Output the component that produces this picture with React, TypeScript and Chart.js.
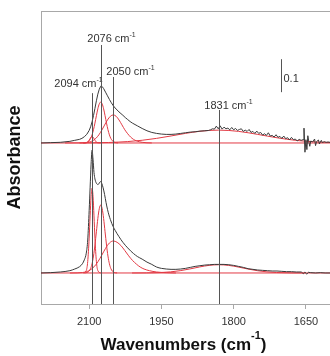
import { useEffect, useRef } from "react";
import { Chart, registerables } from "chart.js";

Chart.register(...registerables);

// ---------- axes ----------
const X_MIN = 1600;
const X_MAX = 2200;
const Y_MIN = -0.094;
const Y_MAX = 0.794;
const X_TICKS = [2100, 1950, 1800, 1650];
const X_TITLE = "Wavenumbers (cm";
const X_TITLE_SUP = "-1";
const X_TITLE_END = ")";
const Y_TITLE = "Absorbance";

// vertical offsets of the two stacked spectra
const UPPER_OFFSET = 0.394;
const LOWER_OFFSET = 0;

// ---------- upper spectrum (measured, black) ----------
const UPPER_WN = [
  2200, 2180, 2160, 2140, 2130, 2120, 2115, 2110, 2105, 2100, 2097, 2094, 2091, 2088, 2085, 2082, 2079, 2076,
  2073, 2070, 2066, 2062, 2058, 2054, 2050, 2046, 2042, 2038, 2034, 2030, 2025, 2020, 2015, 2010, 2000, 1990,
  1980, 1970, 1960, 1950, 1940, 1930, 1920, 1910, 1900, 1890, 1880, 1870, 1860, 1852,
  1848, 1844, 1840, 1836, 1832, 1828, 1824, 1820, 1816, 1812, 1808, 1804, 1800, 1796, 1792, 1788, 1784, 1780,
  1776, 1772, 1768, 1764, 1760, 1756, 1752, 1748, 1744, 1740, 1736, 1732, 1728, 1724, 1720, 1716, 1712, 1708,
  1704, 1700, 1696, 1692, 1688, 1684, 1680, 1676, 1672, 1668,
  1664, 1660, 1656, 1654, 1652, 1650, 1648, 1646, 1644, 1642, 1640, 1636, 1632, 1630, 1628, 1624, 1622, 1620,
  1618, 1616, 1612, 1608, 1604, 1600,
];
const UPPER_ABS = [
  0.0, 0.001, 0.002, 0.005, 0.008, 0.011, 0.014, 0.019, 0.026, 0.038, 0.049, 0.064, 0.083, 0.105, 0.128, 0.148, 0.163, 0.172,
  0.171, 0.165, 0.154, 0.143, 0.132, 0.122, 0.113, 0.106, 0.1, 0.094, 0.089, 0.084, 0.077, 0.071, 0.065, 0.06, 0.052, 0.044,
  0.037, 0.032, 0.029, 0.027, 0.026, 0.026, 0.027, 0.029, 0.031, 0.033, 0.034, 0.036, 0.037, 0.038,
  0.04, 0.043, 0.042, 0.051, 0.043, 0.052, 0.042, 0.048, 0.043, 0.045, 0.04, 0.047, 0.04, 0.044, 0.038, 0.041, 0.043, 0.035,
  0.039, 0.035, 0.041, 0.032, 0.035, 0.029, 0.036, 0.029, 0.032, 0.024, 0.028, 0.023, 0.031, 0.021, 0.023, 0.018, 0.025, 0.017,
  0.02, 0.014, 0.021, 0.013, 0.016, 0.009, 0.017, 0.01, 0.012, 0.006,
  0.011, 0.008, 0.01, 0.045, -0.028, 0.01, -0.02, 0.022, 0.004, -0.01, 0.006, 0.003, 0.012, -0.008, 0.004, 0.009, -0.003, 0.003,
  0.008, 0.001, 0.004, 0.002, 0.003, 0.002,
];

// upper fitted components (red)
const U2094_WN = [2112, 2106, 2103, 2100, 2097, 2094, 2091, 2088, 2085, 2082, 2076];
const U2094_ABS = [0, 0.0006, 0.0027, 0.0082, 0.016, 0.02, 0.016, 0.0082, 0.0027, 0.0006, 0];
const U2076_WN = [2112, 2106, 2100, 2097, 2094, 2091, 2088, 2085, 2082, 2079, 2076, 2073, 2070, 2067, 2064, 2061, 2058, 2055, 2052, 2046, 2040];
const U2076_ABS = [0.0002, 0.0014, 0.007, 0.0137, 0.0245, 0.0403, 0.0603, 0.0827, 0.1036, 0.1185, 0.124, 0.1185, 0.1036, 0.0827, 0.0603, 0.0403, 0.0245, 0.0137, 0.007, 0.0014, 0.0002];
const U2050_WN = [2120, 2110, 2104, 2098, 2092, 2086, 2080, 2074, 2068, 2062, 2056, 2050, 2044, 2038, 2032, 2026, 2020, 2014, 2008, 2002, 1996, 1990, 1980, 1970];
const U2050_ABS = [0.0001, 0.0006, 0.0015, 0.0035, 0.0074, 0.0141, 0.0244, 0.0383, 0.0543, 0.0697, 0.0809, 0.085, 0.0809, 0.0697, 0.055, 0.04, 0.028, 0.018, 0.011, 0.0065, 0.0038, 0.002, 0.0006, 0.0001];
const U1831_WN = [2150, 2100, 2060, 2020, 1990, 1960, 1930, 1900, 1870, 1850, 1831, 1810, 1790, 1770, 1750, 1730, 1710, 1690, 1670, 1650, 1630, 1610, 1600];
const U1831_ABS = [0.0001, 0.0004, 0.0015, 0.0043, 0.0082, 0.014, 0.0213, 0.0291, 0.0355, 0.0381, 0.039, 0.0379, 0.0352, 0.031, 0.026, 0.0208, 0.0158, 0.0114, 0.0079, 0.0052, 0.0032, 0.0019, 0.0014];

// ---------- lower spectrum (measured, black) ----------
const LOWER_WN = [
  2200, 2180, 2160, 2140, 2130, 2120, 2114, 2110, 2106, 2103, 2100, 2098, 2096, 2094, 2092, 2090, 2088, 2086, 2084,
  2082, 2080, 2078, 2076, 2074, 2071, 2068, 2065, 2062, 2059, 2056, 2053, 2050, 2046, 2042, 2038, 2034, 2030, 2025,
  2020, 2014, 2008, 2000, 1990, 1980, 1970, 1960, 1950, 1940, 1930, 1920, 1910, 1900, 1890, 1880, 1870, 1860, 1850,
  1840, 1831, 1820, 1810, 1800, 1790, 1780, 1770, 1760, 1750, 1740, 1730, 1720, 1710, 1700, 1690, 1680, 1670, 1660,
  1655, 1652, 1648, 1645, 1640, 1630, 1620, 1610, 1600,
];
const LOWER_ABS = [
  0.0, 0.001, 0.003, 0.007, 0.012, 0.019, 0.028, 0.04, 0.06, 0.1, 0.19, 0.26, 0.33, 0.372, 0.345, 0.305, 0.285, 0.275, 0.27,
  0.268, 0.27, 0.275, 0.277, 0.272, 0.258, 0.238, 0.214, 0.193, 0.176, 0.162, 0.15, 0.14, 0.129, 0.119, 0.11, 0.101, 0.093, 0.084,
  0.076, 0.067, 0.059, 0.05, 0.042, 0.033, 0.026, 0.018, 0.014, 0.012, 0.011, 0.011, 0.012, 0.014, 0.017, 0.02, 0.022, 0.024, 0.025,
  0.026, 0.026, 0.026, 0.025, 0.023, 0.02, 0.017, 0.013, 0.011, 0.009, 0.008, 0.007, 0.006, 0.006, 0.005, 0.004, 0.004, 0.003, 0.003,
  -0.002, 0.003, -0.004, 0.002, 0.001, 0.0, 0.001, 0.0, 0.0,
];

// lower fitted components (red)
const L2094_WN = [2112, 2106, 2103, 2100, 2098, 2096, 2094, 2092, 2090, 2088, 2085, 2082, 2076];
const L2094_ABS = [0.0001, 0.0073, 0.0348, 0.1057, 0.1731, 0.2328, 0.257, 0.2328, 0.1731, 0.1057, 0.0348, 0.0073, 0.0001];
const L2076_WN = [2110, 2104, 2100, 2097, 2094, 2091, 2088, 2085, 2082, 2079, 2076, 2073, 2070, 2067, 2064, 2061, 2058, 2055, 2052, 2048, 2042];
const L2076_ABS = [0.0002, 0.0016, 0.0059, 0.0135, 0.0279, 0.0514, 0.0847, 0.125, 0.165, 0.1949, 0.206, 0.1949, 0.165, 0.125, 0.0847, 0.0514, 0.0279, 0.0135, 0.0059, 0.0016, 0.0002];
const L2050_WN = [2140, 2125, 2114, 2106, 2098, 2090, 2082, 2074, 2066, 2058, 2050, 2042, 2034, 2026, 2018, 2010, 2002, 1994, 1986, 1975, 1960, 1940, 1920];
const L2050_ABS = [0.0, 0.0003, 0.0014, 0.0038, 0.009, 0.0186, 0.0337, 0.0535, 0.0745, 0.0908, 0.097, 0.093, 0.083, 0.068, 0.052, 0.038, 0.027, 0.018, 0.012, 0.007, 0.003, 0.001, 0.0];
const L1831_WN = [2011, 1981, 1951, 1931, 1911, 1891, 1871, 1851, 1831, 1811, 1791, 1771, 1751, 1731, 1711, 1681, 1651];
const L1831_ABS = [0, 0.0003, 0.0014, 0.0034, 0.007, 0.0122, 0.0182, 0.0231, 0.025, 0.0231, 0.0182, 0.0122, 0.007, 0.0034, 0.0014, 0.0003, 0];

// ---------- annotations ----------
const MARKER_WN = [2094, 2076, 2050, 1831];
const MARKER_LABELS = ["2094 cm", "2076 cm", "2050 cm", "1831 cm"];
const MARKER_SUP = "-1";
const SCALE_BAR_VALUE = 0.1;
const SCALE_BAR_LABEL = "0.1";

// ---------- styling ----------
const FONT = "'Liberation Sans', Arial, Helvetica, sans-serif";
const BLACK = "#3a3a3a";
const RED = "#e23a44";
const MARKER_COLOR = "#555555";
const FRAME = "#a8a8a8";
const TEXT = "#333333";
// annotation layout (absorbance of line tops, label offsets in px)
const MARKER_TOP = [0.545, 0.691, 0.594, 0.494];
const MARKER_LABEL_DX = [-14, 10, 17, 9];
const MARKER_LABEL_DY = [-10, -7, -6, -5];
const SCALE_BAR_WN = 1702;
const SCALE_BAR_BOTTOM = 0.548;

function pts(wn: number[], ab: number[], offset: number) {
  return wn.map((w, i) => ({ x: w, y: ab[i] + offset }));
}

function lineDs(data: { x: number; y: number }[], color: string, smooth = true) {
  return {
    data,
    borderColor: color,
    borderWidth: 1,
    pointRadius: 0,
    fill: false,
    tension: 0,
    cubicInterpolationMode: smooth ? ("monotone" as const) : ("default" as const),
  };
}

function drawSupText(
  ctx: CanvasRenderingContext2D,
  main: string,
  sup: string,
  tail: string,
  cx: number,
  baseline: number,
  size: number,
  supSize: number,
  raise: number,
  weight: string
) {
  ctx.font = `${weight} ${size}px ${FONT}`;
  const w1 = ctx.measureText(main).width;
  const w3 = ctx.measureText(tail).width;
  ctx.font = `${weight} ${supSize}px ${FONT}`;
  const w2 = ctx.measureText(sup).width;
  let x = cx - (w1 + w2 + w3) / 2;
  ctx.textAlign = "left";
  ctx.textBaseline = "alphabetic";
  ctx.font = `${weight} ${size}px ${FONT}`;
  ctx.fillText(main, x, baseline);
  x += w1;
  ctx.font = `${weight} ${supSize}px ${FONT}`;
  ctx.fillText(sup, x, baseline - raise);
  x += w2;
  if (tail) {
    ctx.font = `${weight} ${size}px ${FONT}`;
    ctx.fillText(tail, x, baseline);
  }
}

const overlayPlugin = {
  id: "overlay",
  afterDatasetsDraw(chart: any) {
    const { ctx, chartArea, scales } = chart;
    const xs = scales.x;
    const ys = scales.y;
    ctx.save();
    // top frame line
    ctx.strokeStyle = FRAME;
    ctx.lineWidth = 1;
    ctx.beginPath();
    ctx.moveTo(chartArea.left, Math.round(chartArea.top) + 0.5);
    ctx.lineTo(chartArea.right, Math.round(chartArea.top) + 0.5);
    ctx.stroke();

    // marker lines + labels
    MARKER_WN.forEach((wn, i) => {
      const px = Math.round(xs.getPixelForValue(wn)) + 0.5;
      const top = ys.getPixelForValue(MARKER_TOP[i]);
      ctx.strokeStyle = MARKER_COLOR;
      ctx.lineWidth = 1;
      ctx.beginPath();
      ctx.moveTo(px, top);
      ctx.lineTo(px, chartArea.bottom);
      ctx.stroke();
      ctx.fillStyle = TEXT;
      drawSupText(ctx, MARKER_LABELS[i], MARKER_SUP, "", px + MARKER_LABEL_DX[i], top + MARKER_LABEL_DY[i] + 4, 11, 7, 5, "normal");
    });

    // scale bar
    const bx = Math.round(xs.getPixelForValue(SCALE_BAR_WN)) + 0.5;
    const b0 = ys.getPixelForValue(SCALE_BAR_BOTTOM);
    const b1 = ys.getPixelForValue(SCALE_BAR_BOTTOM + SCALE_BAR_VALUE);
    ctx.strokeStyle = MARKER_COLOR;
    ctx.beginPath();
    ctx.moveTo(bx, b0);
    ctx.lineTo(bx, b1);
    ctx.stroke();
    ctx.fillStyle = TEXT;
    ctx.font = `11px ${FONT}`;
    ctx.textAlign = "left";
    ctx.textBaseline = "middle";
    ctx.fillText(SCALE_BAR_LABEL, bx + 2, (b0 + b1) / 2 + 3);

    // x-axis title with superscript
    ctx.fillStyle = "#111";
    drawSupText(ctx, X_TITLE, X_TITLE_SUP, X_TITLE_END, (chartArea.left + chartArea.right) / 2 - 2, 350, 17, 11, 11, "bold");
    ctx.restore();
  },
};

export default function App() {
  const ref = useRef<HTMLCanvasElement | null>(null);

  useEffect(() => {
    if (!ref.current) return;
    document.body.style.margin = "0";
    const datasets = [
      lineDs(pts(UPPER_WN, UPPER_ABS, UPPER_OFFSET), BLACK, false),
      lineDs(pts(LOWER_WN, LOWER_ABS, LOWER_OFFSET), BLACK),
      lineDs(pts(U2094_WN, U2094_ABS, UPPER_OFFSET), RED),
      lineDs(pts(U2076_WN, U2076_ABS, UPPER_OFFSET), RED),
      lineDs(pts(U2050_WN, U2050_ABS, UPPER_OFFSET), RED),
      lineDs(pts(U1831_WN, U1831_ABS, UPPER_OFFSET), RED),
      lineDs(pts(L2094_WN, L2094_ABS, LOWER_OFFSET), RED),
      lineDs(pts(L2076_WN, L2076_ABS, LOWER_OFFSET), RED),
      lineDs(pts(L2050_WN, L2050_ABS, LOWER_OFFSET), RED),
      lineDs(pts(L1831_WN, L1831_ABS, LOWER_OFFSET), RED),
      lineDs([{ x: X_MAX, y: UPPER_OFFSET }, { x: X_MIN, y: UPPER_OFFSET }], RED),
      lineDs([{ x: X_MAX, y: LOWER_OFFSET }, { x: X_MIN, y: LOWER_OFFSET }], RED),
    ];
    const chart = new Chart(ref.current, {
      type: "line",
      data: { datasets },
      plugins: [overlayPlugin],
      options: {
        animation: false,
        responsive: false,
        maintainAspectRatio: false,
        layout: { padding: { top: 11, left: 0, right: 0, bottom: 0 } },
        plugins: { legend: { display: false }, tooltip: { enabled: false } },
        font: { family: FONT },
        scales: {
          x: {
            type: "linear",
            reverse: true,
            min: X_MIN,
            max: X_MAX,
            afterBuildTicks: (s: any) => {
              s.ticks = X_TICKS.map((v) => ({ value: v }));
            },
            afterFit: (s: any) => {
              s.height = 52;
            },
            grid: { drawOnChartArea: false, drawTicks: true, tickLength: 5, color: FRAME },
            border: { display: true, color: FRAME, width: 1 },
            ticks: {
              color: TEXT,
              font: { family: FONT, size: 11 },
              padding: 6,
              maxRotation: 0,
              autoSkip: false,
              callback: (v: any) => String(v),
            },
            title: { display: false },
          },
          y: {
            type: "linear",
            min: Y_MIN,
            max: Y_MAX,
            afterFit: (s: any) => {
              s.width = 41;
            },
            grid: { drawOnChartArea: false, drawTicks: false },
            border: { display: true, color: FRAME, width: 1 },
            ticks: { display: false },
            title: {
              display: true,
              text: Y_TITLE,
              color: "#111",
              font: { family: FONT, size: 18, weight: "bold" },
              padding: { top: 4, bottom: 0 },
            },
          },
        },
      } as any,
    });
    return () => chart.destroy();
  }, []);

  return (
    <div style={{ position: "fixed", left: 0, top: 0, width: 330, height: 356, background: "#fff" }}>
      <canvas ref={ref} width={330} height={356} style={{ display: "block", width: 330, height: 356 }} />
    </div>
  );
}
